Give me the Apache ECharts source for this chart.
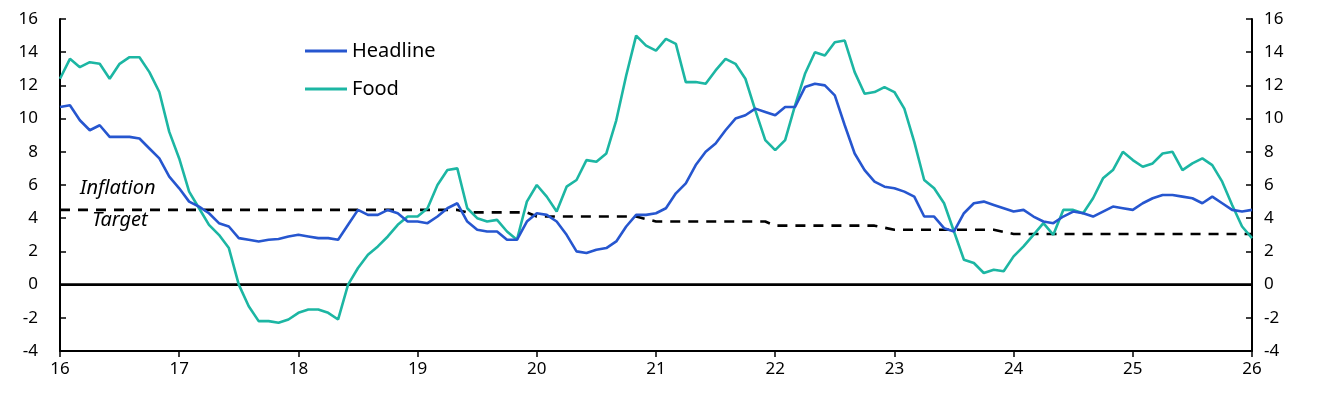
<!DOCTYPE html>
<html><head><meta charset="utf-8">
<script src="https://cdn.jsdelivr.net/npm/echarts@6/dist/echarts.min.js"></script>
<style>html,body{margin:0;padding:0;background:#fff}#c{width:1319px;height:406px}</style>
</head><body><div id="c"></div>
<script>
const headline = [
10.7,10.8,9.9,9.3,9.6,8.9,8.9,8.9,8.8,8.2,7.6,6.5,
5.8,5.0,4.7,4.3,3.7,3.5,2.8,2.7,2.6,2.7,2.75,2.9,
3.0,2.9,2.8,2.8,2.7,3.6,4.5,4.2,4.2,4.5,4.3,3.8,
3.8,3.7,4.1,4.6,4.9,3.8,3.3,3.2,3.2,2.7,2.7,3.8,
4.3,4.2,3.8,3.0,2.0,1.9,2.1,2.2,2.6,3.5,4.2,4.2,
4.3,4.6,5.5,6.1,7.2,8.0,8.5,9.3,10.0,10.2,10.6,10.4,
10.2,10.7,10.7,11.9,12.1,12.0,11.4,9.6,7.9,6.9,6.2,5.9,
5.8,5.6,5.3,4.1,4.1,3.4,3.2,4.3,4.9,5.0,4.8,4.6,
4.4,4.5,4.1,3.8,3.7,4.1,4.4,4.3,4.1,4.4,4.7,4.6,
4.5,4.9,5.2,5.4,5.4,5.3,5.2,4.9,5.3,4.9,4.5,4.4,
4.5];
const food = [
12.4,13.6,13.1,13.4,13.3,12.4,13.3,13.7,13.7,12.8,11.6,9.2,
7.6,5.6,4.6,3.6,3.0,2.2,0.0,-1.3,-2.2,-2.2,-2.3,-2.1,
-1.7,-1.5,-1.5,-1.7,-2.1,0.0,1.0,1.8,2.3,2.9,3.6,4.1,
4.1,4.6,6.0,6.9,7.0,4.6,4.0,3.8,3.9,3.2,2.7,5.0,
6.0,5.3,4.4,5.9,6.3,7.5,7.4,7.9,9.9,12.6,15.0,14.4,
14.1,14.8,14.5,12.2,12.2,12.1,12.9,13.6,13.3,12.4,10.5,8.7,
8.1,8.7,10.8,12.7,14.0,13.8,14.6,14.7,12.8,11.5,11.6,11.9,
11.6,10.6,8.6,6.3,5.8,4.9,3.2,1.5,1.3,0.7,0.9,0.8,
1.7,2.3,3.0,3.7,3.0,4.5,4.5,4.3,5.2,6.4,6.9,8.0,
7.5,7.1,7.3,7.9,8.0,6.9,7.3,7.6,7.2,6.2,4.8,3.5,
2.8];
// inflation target: [month index, value] breakpoints
const target = [[0,4.5],[40,4.5],[41,4.35],[47,4.35],[48,4.1],[58,4.1],[60,3.8],[71,3.8],[72,3.55],[82,3.55],[84,3.3],[94,3.3],[96,3.05],[120,3.05]];
const yearLabels = ['16','17','18','19','20','21','22','23','24','25','26'];
const months = headline.map((v,i)=>i);
const font = 'Noto Sans';
const chart = echarts.init(document.getElementById('c'));
const yAx = (pos)=>({type:'value',position:pos,min:-4,max:16,interval:2,
  axisLine:{show:true,lineStyle:{color:'#000',width:2}},
  axisTick:{show:true,inside:true,length:6,lineStyle:{color:'#000',width:1.5}},
  splitLine:{show:false},
  axisLabel:{color:'#000',fontSize:17,fontFamily:font,margin:pos==='left'?22:12}});
chart.setOption({
  animation:false,
  grid:{left:60,right:67,top:19,bottom:55},
  legend:{left:300,top:36,orient:'vertical',itemGap:18,itemWidth:42,itemHeight:3,
    icon:'rect',textStyle:{fontSize:20,fontFamily:font,color:'#000'},
    data:['Headline','Food']},
  xAxis:{type:'value',min:0,max:120,interval:12,
    axisLine:{onZero:false,lineStyle:{color:'#000',width:2}},
    axisTick:{inside:false,length:6,lineStyle:{color:'#000',width:1.5}},
    splitLine:{show:false},
    axisLabel:{color:'#000',fontSize:17,fontFamily:font,margin:10,formatter:v=>yearLabels[v/12]}},
  yAxis:[yAx('left'),yAx('right')],
  graphic:[
    {type:'text',left:80,top:178,style:{text:'Inflation',font:'italic 20px "Noto Sans"',fill:'#000'}},
    {type:'text',left:92,top:210,style:{text:'Target',font:'italic 20px "Noto Sans"',fill:'#000'}}
  ],
  series:[
    {name:'zero',type:'line',data:[[0,0],[120,0]],symbol:'none',silent:true,lineStyle:{color:'#000',width:2.6},z:1},
    {name:'Target',type:'line',data:target,symbol:'none',lineStyle:{color:'#000',width:2.6,type:[10,8]},z:2},
    {name:'Headline',type:'line',data:headline.map((v,i)=>[months[i],v]),symbol:'none',itemStyle:{color:'#2656cf'},lineStyle:{color:'#2656cf',width:2.6},z:4},
    {name:'Food',type:'line',data:food.map((v,i)=>[months[i],v]),symbol:'none',itemStyle:{color:'#1cb6a3'},lineStyle:{color:'#1cb6a3',width:2.6},z:3}
  ]
});
</script></body></html>
